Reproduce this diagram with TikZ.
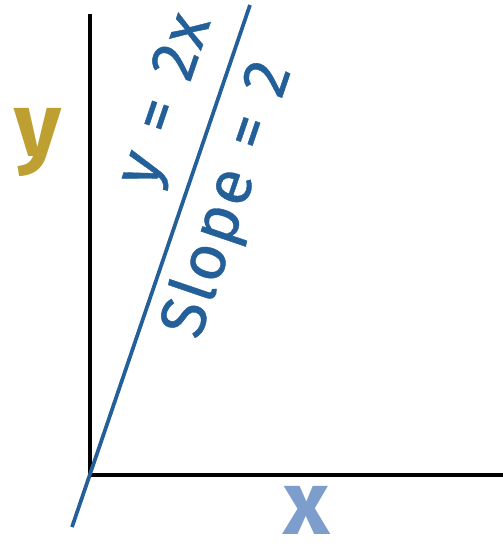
\documentclass[tikz,border=0pt]{standalone}
\usepackage{fontspec}
\setmainfont{Fira Sans}
\newfontfamily\eqfont[LetterSpace=4,WordSpace=1.25,FakeBold=0.6]{Fira Sans}
\definecolor{linblue}{RGB}{35,95,152}
\definecolor{ygold}{RGB}{190,160,50}
\definecolor{xblue}{RGB}{125,157,205}
\begin{document}
\begin{tikzpicture}[x=0.75pt,y=-0.75pt,
  axis/.style={line width=3.6pt,black},
  graphline/.style={line width=2.8pt,linblue},
  eqlabel/.style={text=linblue,font=\eqfont\fontsize{48}{48}\selectfont,rotate=71.2,inner sep=0pt},
  axlabel/.style={font=\bfseries\fontsize{68}{68}\selectfont,inner sep=0pt}]
\useasboundingbox (0,0) rectangle (503,546);
\coordinate (o) at (90,475);
\coordinate (ytop) at (90,14);
\coordinate (xend) at (503,475);
\coordinate (lb) at (72,527);
\coordinate (lt) at (250,5);
\draw[axis] (ytop) -- (o) -- (xend);
\draw[graphline] (lb) -- (lt);
\node[eqlabel] (eq) at (168,101) {y = 2x};
\node[eqlabel] (sl) at (229,200) {Slope = 2};
\node[axlabel,text=ygold] (ylab) at (38,142) {y};
\node[axlabel,text=xblue] (xlab) at (307,510) {x};
\end{tikzpicture}
\end{document}
